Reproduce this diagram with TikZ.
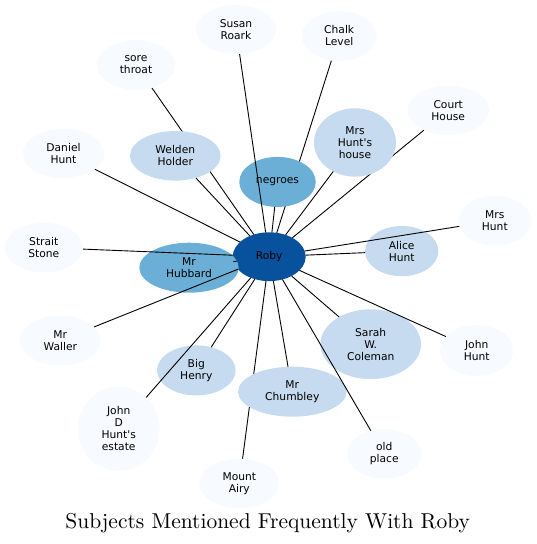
\documentclass[tikz,border=0pt]{standalone}
\usepackage{fontspec}
\newfontfamily\nodefont{DejaVu Sans}
\newfontfamily\titlefont{lmroman10-regular.otf}
\usetikzlibrary{shapes.geometric,backgrounds}
\definecolor{cdark}{HTML}{08519C}
\definecolor{cmid}{HTML}{6BAED6}
\definecolor{clight}{HTML}{C6DBEF}
\definecolor{cpale}{HTML}{F7FBFF}
\tikzset{
  bub/.style={ellipse, inner sep=0pt, outer sep=0pt, align=center,
    font=\nodefont\fontsize{10.7}{12}\selectfont, text=black},
  er/.style 2 args={minimum width=#1pt, minimum height=#2pt},
  edge/.style={draw=black, line width=0.9pt},
}
\begin{document}
\begin{tikzpicture}[x=1pt,y=-1pt]
\useasboundingbox (0,0) rectangle (536,544);
% nodes
\node[bub, fill=cdark,  er={73}{48.8}]   (roby)    at (269.2,256.7) {Roby};
\node[bub, fill=cmid,   er={76.5}{50}]   (negroes) at (277.5,181.9) {negroes};
\node[bub, fill=cmid,   er={99.4}{50}]   (hubbard) at (189,267.7)   {Mr\\Hubbard};
\node[bub, fill=clight, er={90.6}{49.6}] (welden)  at (175.3,155.8) {Welden\\Holder};
\node[bub, fill=clight, er={82}{68.4}]   (mhh)     at (355,142.5)   {Mrs\\Hunt's\\house};
\node[bub, fill=clight, er={73.4}{50.2}] (alice)   at (401.7,251.1) {Alice\\Hunt};
\node[bub, fill=clight, er={100.6}{69.8}] (sarah)  at (370.7,344.2) {Sarah\\W.\\Coleman};
\node[bub, fill=clight, er={108.6}{50}]  (chumbley) at (292.3,391.7) {Mr\\Chumbley};
\node[bub, fill=clight, er={78.6}{50}]   (henry)   at (196.3,370.4) {Big\\Henry};
\node[bub, fill=cpale,  er={80}{49.2}]   (susan)   at (236,29.5)    {Susan\\Roark};
\node[bub, fill=cpale,  er={75}{50}]     (chalk)   at (339.2,36)    {Chalk\\Level};
\node[bub, fill=cpale,  er={78}{50}]     (sore)    at (136,65)      {sore\\throat};
\node[bub, fill=cpale,  er={81.6}{49.4}] (court)   at (448.2,110.3) {Court\\House};
\node[bub, fill=cpale,  er={81.6}{49.4}] (daniel)  at (63.5,153.5)  {Daniel\\Hunt};
\node[bub, fill=cpale,  er={73}{50}]     (mrshunt) at (494.8,220.7) {Mrs\\Hunt};
\node[bub, fill=cpale,  er={78.4}{49.6}] (strait)  at (43.8,247.5)  {Strait\\Stone};
\node[bub, fill=cpale,  er={80.6}{50}]   (waller)  at (60.3,340.5)  {Mr\\Waller};
\node[bub, fill=cpale,  er={73.4}{51}]   (johnhunt) at (476.7,350.5) {John\\Hunt};
\node[bub, fill=cpale,  er={82}{84.4}]   (jdh)     at (118.7,428.8) {John\\D\\Hunt's\\estate};
\node[bub, fill=cpale,  er={80}{49.6}]   (airy)    at (239.3,483.5) {Mount\\Airy};
\node[bub, fill=cpale,  er={74.6}{49.6}] (oldplace) at (384.3,453.8) {old\\place};
% edges hidden under other bubbles
\begin{pgfonlayer}{background}
\draw[edge] (roby) -- (sore);
\draw[edge] (roby) -- (chalk);
\draw[edge] (roby) -- (court);
\draw[edge] (roby) -- (airy);
\end{pgfonlayer}
% edges drawn on top
\draw[edge] (roby) -- (negroes);
\draw[edge] (roby) -- (hubbard);
\draw[edge] (roby) -- (welden);
\draw[edge] (roby) -- (mhh);
\draw[edge] (roby) -- (alice);
\draw[edge] (roby) -- (sarah);
\draw[edge] (roby) -- (chumbley);
\draw[edge] (roby) -- (henry);
\draw[edge] (roby) -- (susan);
\draw[edge] (roby) -- (daniel);
\draw[edge] (roby) -- (mrshunt);
\draw[edge] (roby) -- (strait);
\draw[edge] (roby) -- (waller);
\draw[edge] (roby) -- (johnhunt);
\draw[edge] (roby) -- (jdh);
\draw[edge] (roby) -- (oldplace);
% title
\node[anchor=base, inner sep=0pt, font=\titlefont\fontsize{21.5}{25}\selectfont] (title) at (267.7,528.3) {Subjects Mentioned Frequently With Roby};
\end{tikzpicture}
\end{document}
